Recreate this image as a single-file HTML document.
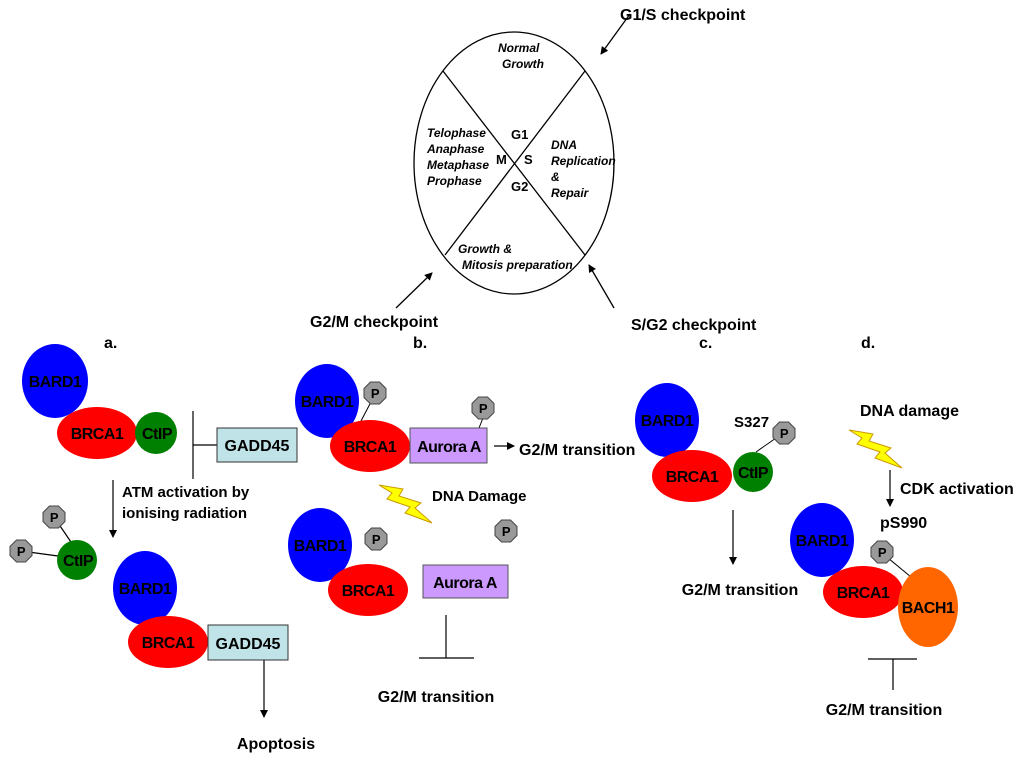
<!DOCTYPE html>
<html><head><meta charset="utf-8"><style>body{margin:0;background:#fff}svg{display:block}text{font-family:"Liberation Sans",sans-serif;font-weight:bold}</style></head><body>
<svg width="1024" height="757" viewBox="0 0 1024 757" xmlns="http://www.w3.org/2000/svg">
<defs>
<marker id="ah" markerWidth="8" markerHeight="8" refX="7" refY="4" orient="auto" markerUnits="userSpaceOnUse"><path d="M0,0 L8,4 L0,8 z" fill="#000"/></marker>
<g id="P"><polygon points="-4.5,-11 4.5,-11 11,-4.5 11,4.5 4.5,11 -4.5,11 -11,4.5 -11,-4.5" fill="#999" stroke="#444" stroke-width="1"/><text x="0" y="5" font-size="13" text-anchor="middle">P</text></g>
<polygon id="bolt" points="0,0 24,4 20,11 42,18 36,23 53,38 26,28 31,22 8,14 13,8" fill="#ffff00" stroke="#cc9900" stroke-width="1"/>
</defs>
<g stroke="#000" stroke-width="1.3" fill="none">
<ellipse cx="514" cy="163" rx="100" ry="131"/>
<line x1="443" y1="71" x2="585" y2="255"/><line x1="585" y1="71" x2="445" y2="255"/>
<line x1="630" y1="14" x2="601" y2="54" marker-end="url(#ah)"/>
<line x1="396" y1="308" x2="432" y2="273" marker-end="url(#ah)"/>
<line x1="614" y1="308" x2="589" y2="265" marker-end="url(#ah)"/>
</g>
<g font-size="12" font-style="italic">
<text x="498" y="52">Normal</text><text x="502" y="68">Growth</text>
<text x="427" y="137">Telophase</text><text x="427" y="153">Anaphase</text><text x="427" y="169">Metaphase</text><text x="427" y="185">Prophase</text>
<text x="551" y="149">DNA</text><text x="551" y="165">Replication</text><text x="551" y="181">&amp;</text><text x="551" y="197">Repair</text>
<text x="458" y="253">Growth &amp;</text><text x="462" y="269">Mitosis preparation</text>
</g>
<g font-size="13" font-weight="normal"><text x="511" y="139">G1</text><text x="496" y="164">M</text><text x="524" y="164">S</text><text x="511" y="191">G2</text></g>
<g font-size="16"><text x="620" y="20">G1/S checkpoint</text><text x="310" y="327">G2/M checkpoint</text><text x="631" y="330">S/G2 checkpoint</text>
<text x="104" y="348">a.</text><text x="413" y="348">b.</text><text x="699" y="348">c.</text><text x="861" y="348">d.</text></g>

<g font-size="16" letter-spacing="-0.5">
<!-- a -->
<ellipse cx="55" cy="381" rx="33" ry="37" fill="#0000ff"/><text x="55" y="387" text-anchor="middle">BARD1</text>
<ellipse cx="97" cy="433" rx="40" ry="26" fill="#ff0000"/><text x="97" y="439" text-anchor="middle">BRCA1</text>
<circle cx="156" cy="433" r="21" fill="#008000"/><text x="157" y="439" text-anchor="middle">CtIP</text>
<g stroke="#000" stroke-width="1.2"><line x1="193" y1="411" x2="193" y2="479"/><line x1="193" y1="445" x2="217" y2="445"/>
<line x1="113" y1="480" x2="113" y2="537" marker-end="url(#ah)"/>
<line x1="54" y1="517" x2="73" y2="545"/><line x1="21" y1="551" x2="58" y2="556"/>
<line x1="264" y1="660" x2="264" y2="717" marker-end="url(#ah)"/></g>
<rect x="217" y="428" width="80" height="34" fill="#bfe3e6" stroke="#333"/><text x="257" y="451" text-anchor="middle" letter-spacing="0">GADD45</text>
<text x="122" y="497" letter-spacing="0" font-size="15">ATM activation by</text><text x="122" y="518" letter-spacing="0" font-size="15">ionising radiation</text>
<use href="#P" x="54" y="517"/><use href="#P" x="21" y="551"/>
<circle cx="77" cy="560" r="20" fill="#008000"/><text x="78" y="566" text-anchor="middle">CtIP</text>
<ellipse cx="145" cy="588" rx="32" ry="37" fill="#0000ff"/><text x="145" y="594" text-anchor="middle">BARD1</text>
<ellipse cx="168" cy="642" rx="40" ry="26" fill="#ff0000"/><text x="168" y="648" text-anchor="middle">BRCA1</text>
<rect x="208" y="625" width="80" height="35" fill="#bfe3e6" stroke="#333"/><text x="248" y="649" text-anchor="middle" letter-spacing="0">GADD45</text>
<text x="276" y="749" text-anchor="middle" letter-spacing="0">Apoptosis</text>

<!-- b -->
<line x1="361" y1="421" x2="372" y2="400" stroke="#000"/>
<ellipse cx="327" cy="401" rx="32" ry="37" fill="#0000ff"/><text x="327" y="407" text-anchor="middle">BARD1</text>
<use href="#P" x="375" y="393"/>
<ellipse cx="370" cy="446" rx="40" ry="26" fill="#ff0000"/><text x="370" y="452" text-anchor="middle">BRCA1</text>
<line x1="483" y1="418" x2="479" y2="428" stroke="#000"/>
<rect x="410" y="428" width="77" height="35" fill="#cc99ff" stroke="#555"/><text x="449" y="452" text-anchor="middle">Aurora A</text>
<use href="#P" x="483" y="408"/>
<line x1="494" y1="446" x2="514" y2="446" stroke="#000" stroke-width="1.2" marker-end="url(#ah)"/>
<text x="519" y="455" letter-spacing="0">G2/M transition</text>
<use href="#bolt" x="379" y="485"/>
<text x="432" y="501" letter-spacing="0" font-size="15">DNA Damage</text>
<ellipse cx="320" cy="545" rx="32" ry="37" fill="#0000ff"/><text x="320" y="551" text-anchor="middle">BARD1</text>
<use href="#P" x="376" y="539"/><use href="#P" x="506" y="531"/>
<ellipse cx="368" cy="590" rx="40" ry="26" fill="#ff0000"/><text x="368" y="596" text-anchor="middle">BRCA1</text>
<rect x="423" y="565" width="85" height="33" fill="#cc99ff" stroke="#555"/><text x="465" y="588" text-anchor="middle">Aurora A</text>
<g stroke="#000" stroke-width="1.2"><line x1="446" y1="615" x2="446" y2="658"/><line x1="419" y1="658" x2="474" y2="658"/></g>
<text x="436" y="702" text-anchor="middle" letter-spacing="0">G2/M transition</text>

<!-- c -->
<ellipse cx="667" cy="420" rx="32" ry="37" fill="#0000ff"/><text x="667" y="426" text-anchor="middle">BARD1</text>
<ellipse cx="692" cy="476" rx="40" ry="26" fill="#ff0000"/><text x="692" y="482" text-anchor="middle">BRCA1</text>
<line x1="756" y1="452" x2="776" y2="438" stroke="#000"/>
<circle cx="753" cy="472" r="20" fill="#008000"/><text x="753" y="478" text-anchor="middle">CtIP</text>
<use href="#P" x="784" y="433"/>
<text x="734" y="427" letter-spacing="0" font-size="15">S327</text>
<line x1="733" y1="510" x2="733" y2="564" stroke="#000" stroke-width="1.2" marker-end="url(#ah)"/>
<text x="740" y="595" text-anchor="middle" letter-spacing="0">G2/M transition</text>

<!-- d -->
<text x="860" y="416" letter-spacing="0">DNA damage</text>
<use href="#bolt" x="849" y="430"/>
<line x1="890" y1="470" x2="890" y2="506" stroke="#000" stroke-width="1.2" marker-end="url(#ah)"/>
<text x="900" y="494" letter-spacing="0">CDK activation</text>
<text x="880" y="528" letter-spacing="0">pS990</text>
<ellipse cx="822" cy="540" rx="32" ry="37" fill="#0000ff"/><text x="822" y="546" text-anchor="middle">BARD1</text>
<line x1="888" y1="558" x2="911" y2="577" stroke="#000"/>
<ellipse cx="863" cy="592" rx="40" ry="26" fill="#ff0000"/><text x="863" y="598" text-anchor="middle">BRCA1</text>
<ellipse cx="928" cy="607" rx="30" ry="40" fill="#ff6600"/><text x="928" y="613" text-anchor="middle">BACH1</text>
<use href="#P" x="882" y="552"/>
<g stroke="#000" stroke-width="1.2"><line x1="868" y1="659" x2="917" y2="659"/><line x1="893" y1="659" x2="893" y2="690"/></g>
<text x="884" y="715" text-anchor="middle" letter-spacing="0">G2/M transition</text>
</g>
</svg>
</body></html>
